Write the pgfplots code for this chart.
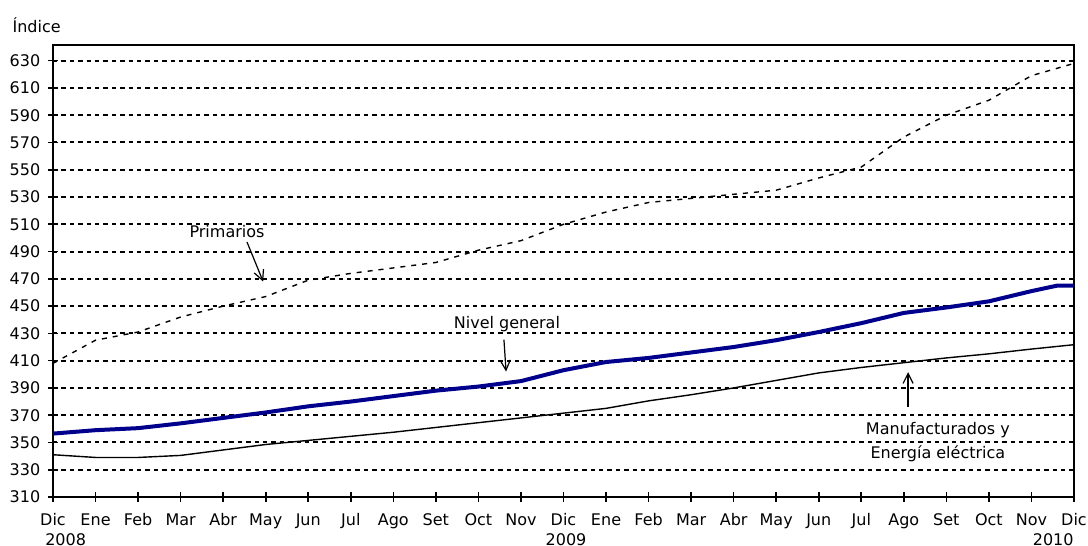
\documentclass[border=0pt]{standalone}
\usepackage{fontspec}
\setmainfont{DejaVu Sans}
\usepackage{pgfplots}
\pgfplotsset{compat=1.18}
\usetikzlibrary{arrows.meta}

\definecolor{navy}{RGB}{0,0,140}

\begin{document}
\fontsize{8}{10}\selectfont
\begin{tikzpicture}
\begin{axis}[
    scale only axis,
    width=510.5pt, height=226pt,
    xmin=0, xmax=24,
    ymin=310, ymax=641.5,
    ytick={310,330,...,630},
    xtick={0,...,24},
    xticklabels={Dic,Ene,Feb,Mar,Abr,May,Jun,Jul,Ago,Set,Oct,Nov,Dic,Ene,Feb,Mar,Abr,May,Jun,Jul,Ago,Set,Oct,Nov,Dic},
    xtick pos=bottom, ytick pos=left,
    tick align=center,
    major tick length=5pt,
    tick style={black, line width=0.8pt},
    axis line style={line width=1pt},
    ymajorgrids,
    grid style={black, line width=1pt, dash pattern=on 2.2pt off 2pt},
    xticklabel style={yshift=-3pt},
    yticklabel style={xshift=-1pt},
    /pgf/number format/assume math mode=true,
    clip=false,
]
% Primarios
\addplot[black, line width=0.7pt, dash pattern=on 2.5pt off 3pt] coordinates {
(0,408) (1,425) (2,431) (3,442) (4,450) (5,457) (6,469) (7,474) (8,478)
(9,482) (10,491) (11,498) (12,510) (13,519) (14,526) (15,529) (16,532)
(17,535) (18,544) (19,552) (20,574) (21,590) (22,601) (23,619) (24,628)};
% Manufacturados y Energia electrica
\addplot[black, line width=0.7pt] coordinates {
(0,341) (1,339) (2,339) (3,340.5) (4,344.5) (5,348.5) (6,351.5) (7,354.5)
(8,357.5) (9,361) (10,364.5) (11,368) (12,371.5) (13,375) (14,380.5)
(15,385) (16,390) (17,395.5) (18,401) (19,405) (20,408.5) (21,412)
(22,415) (23,418.5) (24,421.7)};
% Nivel general
\addplot[navy, line width=2pt] coordinates {
(0,356.5) (1,359) (2,360.5) (3,364) (4,368) (5,372) (6,376.5) (7,380)
(8,384) (9,388) (10,391) (11,395) (12,403) (13,409) (14,412) (15,416)
(16,420) (17,425) (18,431) (19,437.5) (20,445) (21,449) (22,453.5)
(23,461) (23.6,465) (24,465)};

\node at (axis cs:4.09,504.5) {Primarios};
\draw[-{Straight Barb[length=5pt,width=5pt]}, line width=0.6pt] (axis cs:4.56,497) -- (axis cs:4.94,468);
\node at (axis cs:10.67,437) {Nivel general};
\draw[-{Straight Barb[length=5pt,width=5pt]}, line width=0.6pt] (axis cs:10.6,425.4) -- (axis cs:10.65,402);
\node[align=center, font=\fontsize{8}{12}\selectfont] at (axis cs:20.8,350) {Manufacturados y\\Energía eléctrica};
\draw[-{Straight Barb[length=5pt,width=5pt]}, line width=0.6pt] (axis cs:20.1,376) -- (axis cs:20.1,401.6);

\node[anchor=west, inner sep=0pt] at (axis cs:-0.96,656) {Índice};
\node[anchor=west, inner sep=0pt] at (axis cs:-0.19,279) {2008};
\node[inner sep=0pt] at (axis cs:12.06,279) {2009};
\node[anchor=east, inner sep=0pt] at (axis cs:24,279) {2010};
\end{axis}
\pgfresetboundingbox
\useasboundingbox ([shift={(-26.5pt,-24.5pt)}]current axis.south west) rectangle ([shift={(7pt,22.5pt)}]current axis.north east);
\end{tikzpicture}
\end{document}
